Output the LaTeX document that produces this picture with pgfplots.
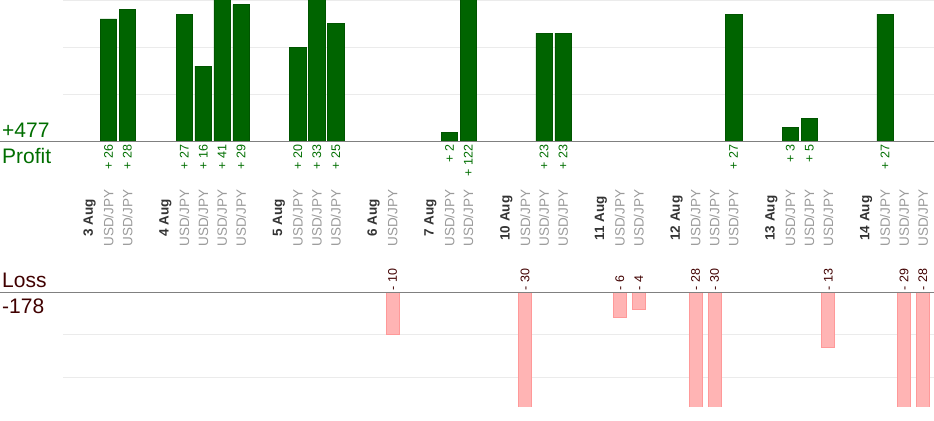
\documentclass[border=0pt]{standalone}
\usepackage{fontspec}
\setmainfont{Liberation Sans}
\usepackage{pgfplots}
\usepackage{pgfplotstable}
\pgfplotsset{compat=1.18}
\definecolor{pgreen}{HTML}{006E00}
\definecolor{barF}{HTML}{006400}
\definecolor{barE}{HTML}{005400}
\definecolor{lossF}{HTML}{FFB4B4}
\definecolor{lossE}{HTML}{FF9999}
\definecolor{maroon}{HTML}{400000}
\definecolor{dgray}{HTML}{333333}
\definecolor{lgray}{HTML}{9A9A9A}
\definecolor{gridc}{HTML}{EBEBEB}
\definecolor{basec}{HTML}{808080}
\newcommand\D[1]{\textcolor{dgray}{\bfseries #1}}
\newcommand\U{USD/JPY}

\pgfplotstableread{
x y
1 26
2 28
5 27
6 16
7 41
8 29
11 20
12 33
13 25
19 2
20 122
24 23
25 23
34 27
37 3
38 5
42 27
}\profit

\pgfplotstableread{
x y
16 -10
23 -30
28 -6
29 -4
32 -28
33 -30
39 -13
43 -29
44 -28
}\loss

\begin{document}
\begin{tikzpicture}[x=1bp,y=1bp]
\path[use as bounding box] (0,0) rectangle (934,420);

\begin{axis}[
  at={(63bp,278.3bp)}, anchor=south west, scale only axis,
  width=871bp, height=141.7bp,
  xmin=-1.402, xmax=44.585, ymin=0, ymax=30,
  enlargelimits=false,
  axis line style={draw=none}, tick style={draw=none},
  ytick={10,20,30}, yticklabels={},
  ymajorgrids, major grid style={gridc, line width=1bp},
  xtick={0,...,44},
  xticklabels={\D{3 Aug},\U,\U,{},\D{4 Aug},\U,\U,\U,\U,{},\D{5 Aug},\U,\U,\U,{},\D{6 Aug},\U,{},\D{7 Aug},\U,\U,{},\D{10 Aug},\U,\U,\U,{},\D{11 Aug},\U,\U,{},\D{12 Aug},\U,\U,\U,{},\D{13 Aug},\U,\U,\U,{},\D{14 Aug},\U,\U,\U},
  xticklabel style={yshift=-76.3bp, rotate=90, anchor=center, inner sep=0pt, text=lgray, font=\fontsize{13.5bp}{15bp}\selectfont},
]
\addplot[ybar, bar width=16.5bp, draw=barE, line width=0.5bp, fill=barF] table[x=x,y=y] {\profit};
\addplot[draw=none, mark=none,
  point meta=\thisrow{y},
  nodes near coords={+ \pgfmathprintnumber[int detect,assume math mode=true]{\pgfplotspointmeta}},
  nodes near coords style={yshift=-2.5bp, rotate=90, anchor=east, inner sep=0pt, text=pgreen, font=\fontsize{12.5bp}{14bp}\selectfont}]
  table[x=x, y expr=0] {\profit};
\end{axis}

\begin{axis}[
  at={(63bp,13.3bp)}, anchor=south west, scale only axis,
  width=871bp, height=114.4bp,
  xmin=-1.402, xmax=44.585, ymin=-27, ymax=0,
  enlargelimits=false,
  axis line style={draw=none}, tick style={draw=none},
  ytick={-10,-20}, yticklabels={}, xtick=\empty,
  ymajorgrids, major grid style={gridc, line width=1bp},
]
\addplot[ybar, bar width=13bp, draw=lossE, line width=0.8bp, fill=lossF] table[x=x,y=y] {\loss};
\addplot[draw=none, mark=none,
  point meta={-\thisrow{y}},
  nodes near coords={- \pgfmathprintnumber[int detect,assume math mode=true]{\pgfplotspointmeta}},
  nodes near coords style={yshift=1.6bp, rotate=90, anchor=west, inner sep=0pt, text=maroon, font=\fontsize{12.5bp}{14bp}\selectfont}]
  table[x=x, y expr=0] {\loss};
\end{axis}

\draw[basec, line width=1.5bp] (0,278.3) -- (934,278.3);
\draw[basec, line width=1.5bp] (0,127.7) -- (934,127.7);

\node[anchor=base west, inner sep=0pt, text=pgreen, font=\fontsize{21bp}{24bp}\selectfont] at (2,283) {+477};
\node[anchor=base west, inner sep=0pt, text=pgreen, font=\fontsize{21bp}{24bp}\selectfont] at (2,257) {Profit};
\node[anchor=base west, inner sep=0pt, text=maroon, font=\fontsize{21bp}{24bp}\selectfont] at (2,133) {Loss};
\node[anchor=base west, inner sep=0pt, text=maroon, font=\fontsize{21bp}{24bp}\selectfont] at (2,107) {-178};
\end{tikzpicture}
\end{document}
